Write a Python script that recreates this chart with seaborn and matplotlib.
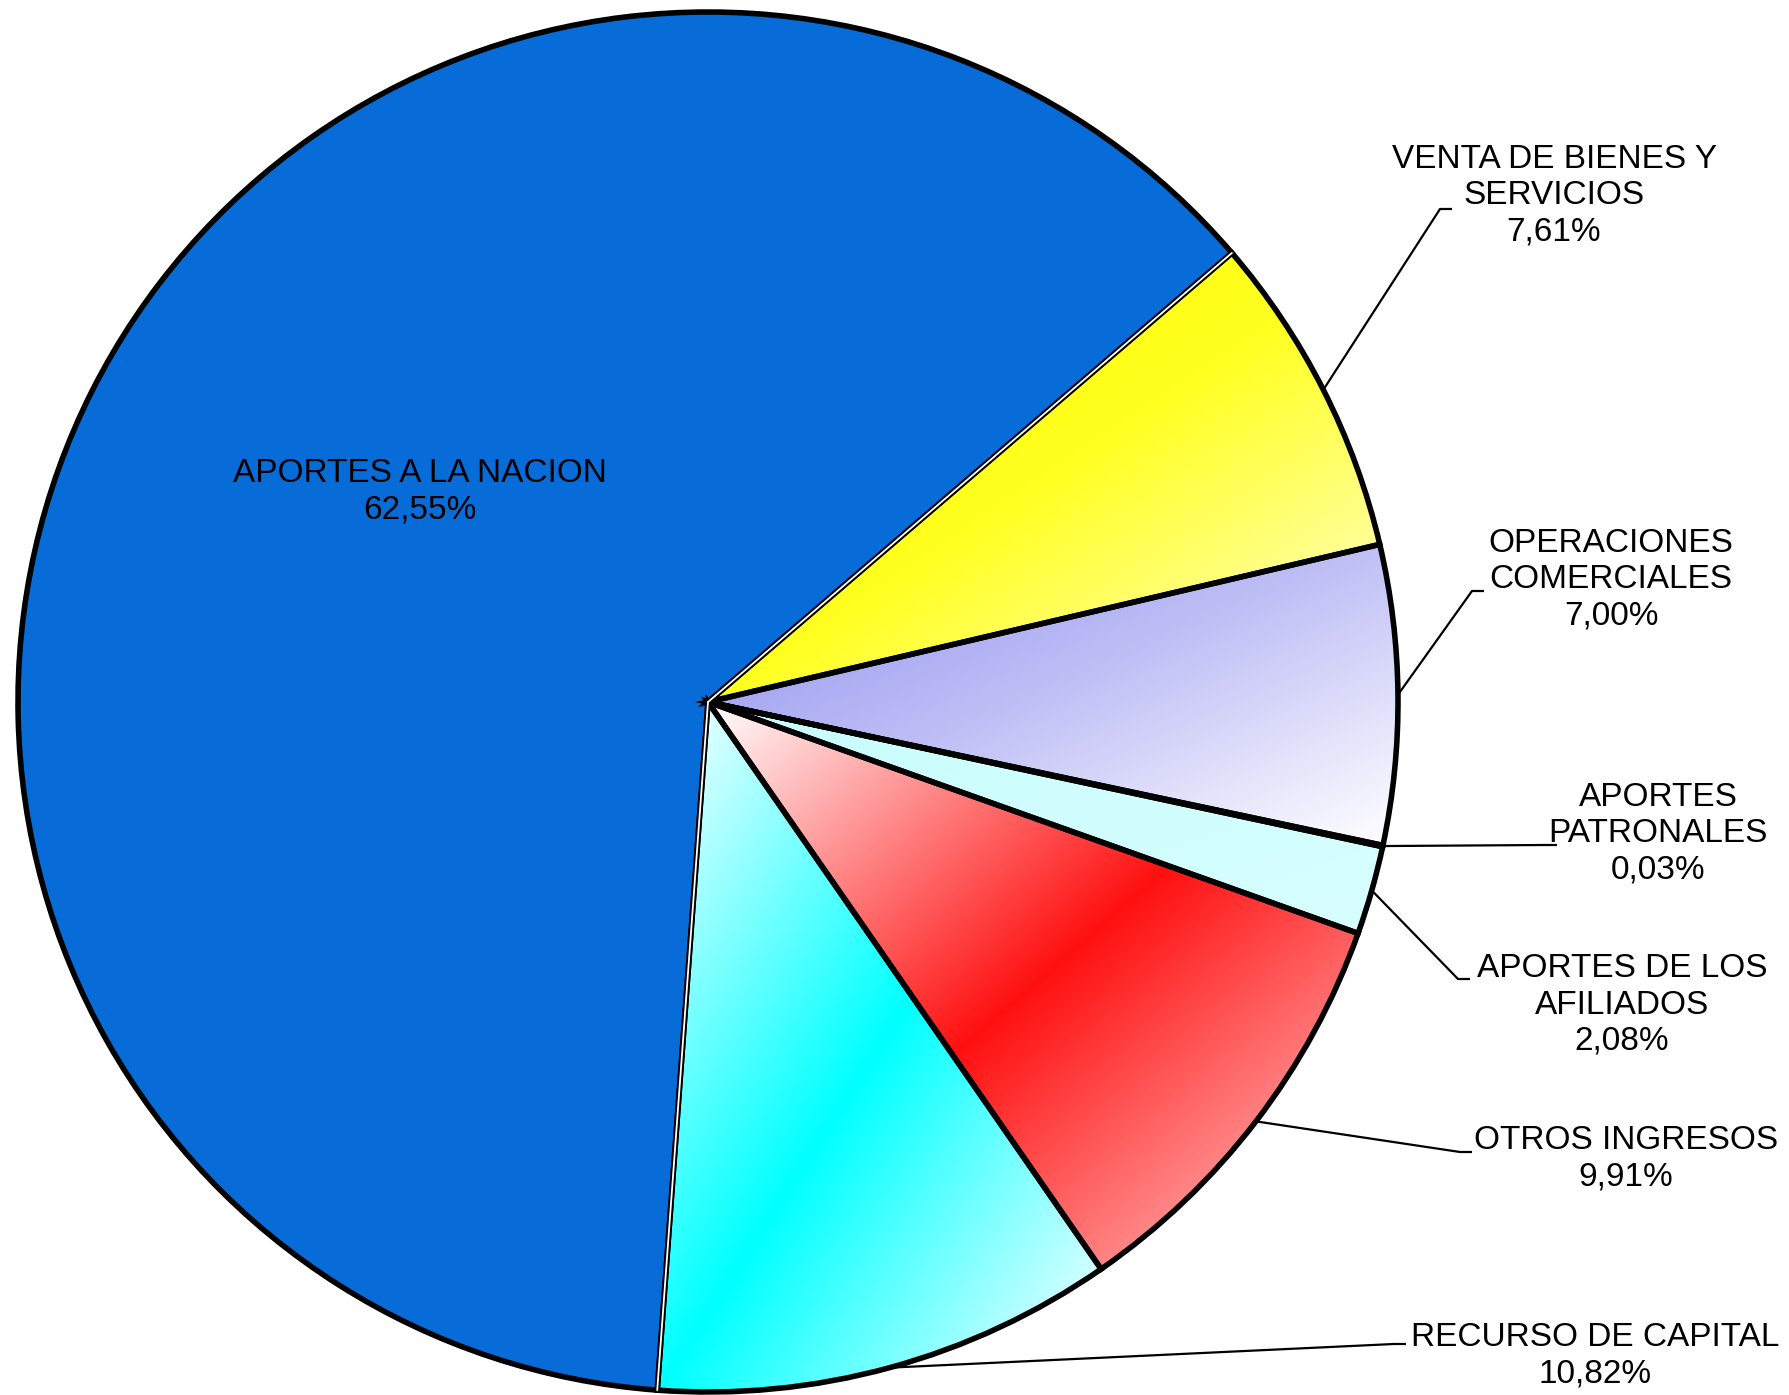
import numpy as np
import seaborn as sns
import matplotlib.pyplot as plt

# data (counterclockwise from the blue slice)
categorias = ['APORTES A LA NACION', 'RECURSO DE CAPITAL', 'OTROS INGRESOS',
              'APORTES DE LOS\nAFILIADOS', 'APORTES\nPATRONALES',
              'OPERACIONES\nCOMERCIALES', 'VENTA DE BIENES Y\nSERVICIOS']
porcentajes = [62.55, 10.82, 9.91, 2.08, 0.03, 7.00, 7.61]

# colour stops for each slice (gradient top-left -> bottom-right)
colores = [
    ['#076CD8', '#076CD8'],
    ['#FFFFFF', '#00FFFF', '#FFFFFF'],
    ['#FFFFFF', '#FF1010', '#FFD0D0'],
    ['#C8FCFC', '#D8FFFF'],
    ['#C8FCFC', '#C8FCFC'],
    ['#8E8EF0', '#C0C0F6', '#FFFFFF'],
    ['#FFFF00', '#FFFF20', '#FFFFD8'],
]

sns.set_theme(style='white')
plt.rcParams['font.family'] = ['Liberation Sans', 'DejaVu Sans']

W, H = 1789, 1395
fig = plt.figure(figsize=(W / 100, H / 100), dpi=100)
ax = fig.add_axes([0, 0, 1, 1])

cx, cy, R = 708, H - 702, 690
wedges, _ = ax.pie(porcentajes, startangle=40.6, counterclock=True,
                   center=(cx, cy), radius=R, frame=True,
                   colors=[c[0] for c in colores],
                   wedgeprops=dict(linewidth=0, zorder=1))

for w, stops in zip(wedges, colores):
    if len(set(stops)) == 1:
        continue
    cmap = sns.blend_palette(stops, n_colors=256, as_cmap=True)
    ext = w.get_path().get_extents()
    xs = np.linspace(0, 1, 300)
    gx, gy = np.meshgrid(xs, xs)
    t = (gx + (1 - gy)) / 2
    im = ax.imshow(t, extent=[ext.x0, ext.x1, ext.y0, ext.y1], origin='lower',
                   cmap=cmap, vmin=0, vmax=1, zorder=2, interpolation='bilinear')
    im.set_clip_path(w)

# outlines
ax.pie(porcentajes, startangle=40.6, counterclock=True, center=(cx, cy),
       radius=R, frame=True,
       wedgeprops=dict(fill=False, edgecolor='black', linewidth=4, zorder=3))

# thin white line inside the radial edges of the big slice
for th in (wedges[0].theta1, wedges[0].theta2):
    a = np.deg2rad(th)
    ax.plot([cx, cx + R * np.cos(a)], [cy, cy + R * np.sin(a)],
            color='white', linewidth=1.3, zorder=4)

ax.set_xlim(0, W)
ax.set_ylim(0, H)
ax.set_aspect('equal')
ax.axis('off')

# label positions (pixel coords, y from top) and leader elbows
etiquetas_pos = [(420, 492), (1595, 1356), (1626, 1159), (1622, 1005),
                 (1658, 834), (1611, 580), (1554, 196)]
codos = [None, (1394, 1344), (1460, 1152), (1458, 979), (1545, 845),
         (1472, 591), (1440, 209)]

for i, (w, cat, pct) in enumerate(zip(wedges, categorias, porcentajes)):
    txt = cat + '\n' + f'{pct:.2f}'.replace('.', ',') + '%'
    lx, ly = etiquetas_pos[i]
    ax.text(lx, H - ly, txt, ha='center', va='center', fontsize=24,
            linespacing=1.22, color='black', zorder=6)
    if codos[i] is not None:
        ang = np.deg2rad((w.theta1 + w.theta2) / 2)
        sx, sy = cx + R * np.cos(ang), cy + R * np.sin(ang)
        ex, ey = codos[i]
        ax.plot([sx, ex, ex + 12], [sy, H - ey, H - ey], color='black',
                linewidth=1.6, zorder=5, solid_capstyle='butt')

fig.savefig('out.png', dpi=100, facecolor='white')
